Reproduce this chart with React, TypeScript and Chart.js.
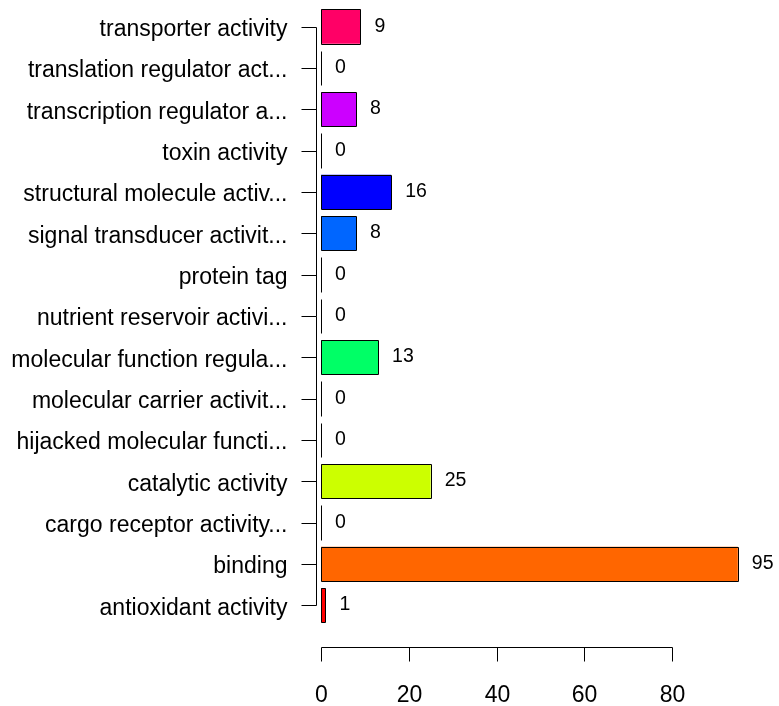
import React, { useEffect, useRef } from "react";
import { Chart, registerables } from "chart.js";

Chart.register(...registerables);

const categories = [
  "transporter activity",
  "translation regulator act...",
  "transcription regulator a...",
  "toxin activity",
  "structural molecule activ...",
  "signal transducer activit...",
  "protein tag",
  "nutrient reservoir activi...",
  "molecular function regula...",
  "molecular carrier activit...",
  "hijacked molecular functi...",
  "catalytic activity",
  "cargo receptor activity...",
  "binding",
  "antioxidant activity",
];

const counts = [9, 0, 8, 0, 16, 8, 0, 0, 13, 0, 0, 25, 0, 95, 1];

const barColors = [
  "#FF0066",
  "#FF00CC",
  "#CC00FF",
  "#6600FF",
  "#0000FF",
  "#0066FF",
  "#00CCFF",
  "#00FFCC",
  "#00FF66",
  "#00FF00",
  "#66FF00",
  "#CCFF00",
  "#FFCC00",
  "#FF6600",
  "#FF0000",
];

const xTicks = [0, 20, 40, 60, 80];

const FONT = "'Liberation Sans', Arial, Helvetica, sans-serif";

const axesPlugin = {
  id: "rAxes",
  afterDatasetsDraw(chart: any) {
    const ctx = chart.ctx;
    const xs = chart.scales.x;
    const meta = chart.getDatasetMeta(0);
    const x0 = xs.getPixelForValue(0);
    ctx.save();
    ctx.strokeStyle = "#000";
    ctx.fillStyle = "#000";
    ctx.lineWidth = 1;

    // bar outlines (zero-width bars become vertical lines)
    meta.data.forEach((el: any, i: number) => {
      const h = el.height;
      const left = Math.round(x0) + 0.5;
      const right = Math.round(xs.getPixelForValue(counts[i])) + 0.5;
      const top = Math.round(el.y - h / 2) + 0.5;
      const bottom = Math.round(el.y + h / 2) + 0.5;
      ctx.beginPath();
      if (counts[i] === 0) {
        ctx.moveTo(left, top);
        ctx.lineTo(left, bottom);
      } else {
        ctx.rect(left, top, right - left, bottom - top);
      }
      ctx.stroke();
    });

    // y axis
    const axisX = Math.round(x0 - 5) + 0.5;
    const tickX = axisX - 15;
    const firstY = meta.data[0].y;
    const lastY = meta.data[meta.data.length - 1].y;
    ctx.beginPath();
    ctx.moveTo(axisX, Math.round(firstY) + 0.5);
    ctx.lineTo(axisX, Math.round(lastY) + 0.5);
    ctx.stroke();
    ctx.font = `23px ${FONT}`;
    ctx.textAlign = "right";
    ctx.textBaseline = "alphabetic";
    meta.data.forEach((el: any, i: number) => {
      const y = Math.round(el.y) + 0.5;
      ctx.beginPath();
      ctx.moveTo(tickX, y);
      ctx.lineTo(axisX, y);
      ctx.stroke();
      ctx.fillText(categories[i], tickX - 14, el.y + 9.5);
    });

    // value labels
    ctx.font = `19.5px ${FONT}`;
    ctx.textAlign = "left";
    meta.data.forEach((el: any, i: number) => {
      const xe = xs.getPixelForValue(counts[i]);
      ctx.fillText(String(counts[i]), xe + 14, el.y + 5);
    });

    // x axis
    const axisY = 647.5;
    const first = Math.round(xs.getPixelForValue(xTicks[0])) + 0.5;
    const last = Math.round(xs.getPixelForValue(xTicks[xTicks.length - 1])) + 0.5;
    ctx.beginPath();
    ctx.moveTo(first, axisY);
    ctx.lineTo(last, axisY);
    ctx.stroke();
    ctx.font = `23px ${FONT}`;
    ctx.textAlign = "center";
    xTicks.forEach((t) => {
      const px = Math.round(xs.getPixelForValue(t)) + 0.5;
      ctx.beginPath();
      ctx.moveTo(px, axisY);
      ctx.lineTo(px, axisY + 14);
      ctx.stroke();
      ctx.fillText(String(t), px, 701.5);
    });
    ctx.restore();
  },
};

export default function App() {
  const ref = useRef<HTMLCanvasElement | null>(null);
  useEffect(() => {
    if (!ref.current) return;
    const chart = new Chart(ref.current, {
      type: "bar",
      data: {
        labels: categories,
        datasets: [
          {
            data: counts,
            backgroundColor: barColors,
            borderWidth: 0,
            barPercentage: 1 / 1.2,
            categoryPercentage: 1,
          },
        ],
      },
      options: {
        indexAxis: "y",
        responsive: false,
        animation: false,
        layout: {
          padding: { left: 321, right: 19.25, top: 5.83, bottom: 80.07 },
        },
        scales: {
          x: { type: "linear", min: 0, max: 100, display: false },
          y: { type: "category", display: false, offset: true },
        },
        plugins: {
          legend: { display: false },
          tooltip: { enabled: false },
          title: { display: false },
        },
      },
      plugins: [axesPlugin],
    });
    return () => chart.destroy();
  }, []);
  return (
    <div style={{ position: "absolute", left: 0, top: 0, width: 779, height: 706, background: "#fff" }}>
      <canvas ref={ref} width={779} height={706} style={{ width: 779, height: 706, display: "block" }} />
    </div>
  );
}
